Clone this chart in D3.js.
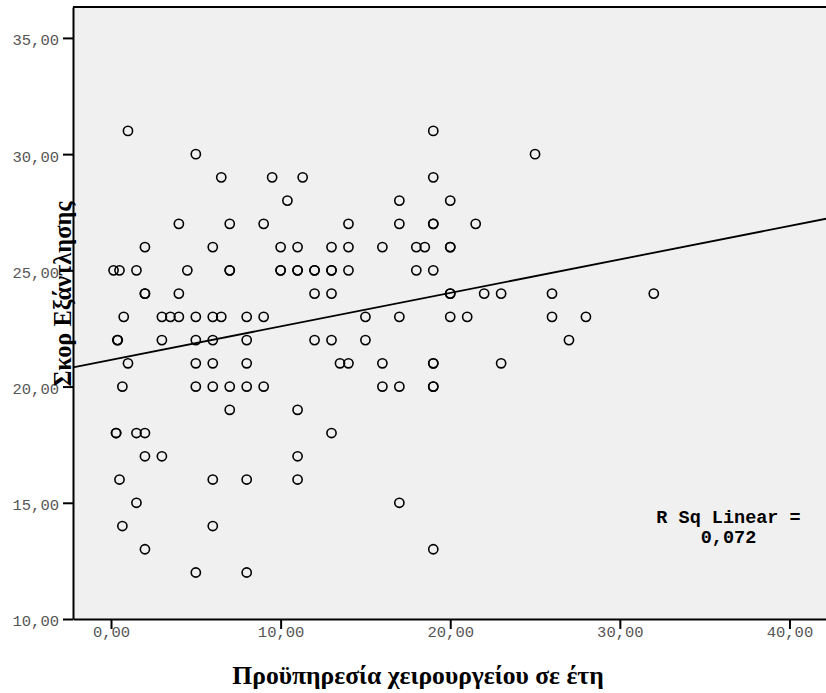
<!DOCTYPE html>
<html><head><meta charset="utf-8">
<script src="https://cdn.jsdelivr.net/npm/d3@7"></script>
<style>body{margin:0;background:#fff}</style>
</head><body><svg id="c" width="826" height="693"></svg>
<script>
// Years of operating-room experience (x) and burnout score (y), one entry per respondent
const experienceYears = [
  1, 19,
  5, 25,
  6.5, 9.5, 11.3, 19,
  10.4, 17, 20,
  4, 7, 9, 14, 17, 19, 19, 21.5,
  2, 6, 10, 11, 13, 14, 16, 18, 18.5, 20, 20,
  0.15, 0.5, 1.5, 4.5, 7, 7, 10, 10, 11, 11, 12, 12, 13, 13, 14, 18, 19,
  2, 2, 4, 12, 13, 20, 20, 22, 23, 26, 32,
  0.75, 3, 3.5, 4, 5, 6, 6.5, 8, 9, 15, 17, 20, 21, 26, 28,
  0.37, 0.4, 3, 5, 6, 8, 12, 13, 15, 27,
  1, 5, 6, 8, 13.5, 14, 16, 19, 19, 23,
  0.67, 5, 6, 7, 8, 9, 16, 17, 19, 19,
  7, 11,
  0.3, 0.3, 1.5, 2, 13,
  2, 3, 11,
  0.5, 6, 8, 11,
  1.5, 17,
  0.67, 6,
  2, 19,
  5, 8
];
const burnoutScore = [
  31, 31,
  30, 30,
  29, 29, 29, 29,
  28, 28, 28,
  27, 27, 27, 27, 27, 27, 27, 27,
  26, 26, 26, 26, 26, 26, 26, 26, 26, 26, 26,
  25, 25, 25, 25, 25, 25, 25, 25, 25, 25, 25, 25, 25, 25, 25, 25, 25,
  24, 24, 24, 24, 24, 24, 24, 24, 24, 24, 24,
  23, 23, 23, 23, 23, 23, 23, 23, 23, 23, 23, 23, 23, 23, 23,
  22, 22, 22, 22, 22, 22, 22, 22, 22, 22,
  21, 21, 21, 21, 21, 21, 21, 21, 21, 21,
  20, 20, 20, 20, 20, 20, 20, 20, 20, 20,
  19, 19,
  18, 18, 18, 18, 18,
  17, 17, 17,
  16, 16, 16, 16,
  15, 15,
  14, 14,
  13, 13,
  12, 12
];
const xTicks = [0, 10, 20, 30, 40];
const yTicks = [10, 15, 20, 25, 30, 35];
const xDomain = [-2.241, 42.39];
const yDomain = [10, 36.33];
const fitIntercept = 21.15;
const fitSlope = 0.144;
const rSquaredLines = ["R Sq Linear =", "0,072"];
const xTitle = "Προϋπηρεσία χειρουργείου σε έτη";
const yTitle = "Σκορ Εξάντλησης";

const svg = d3.select("#c");
const L = 73, T = 7, R = 830, B = 619;
const x = d3.scaleLinear().domain(xDomain).range([L, R]);
const y = d3.scaleLinear().domain(yDomain).range([B, T]);
const locale = d3.formatLocale({decimal: ",", thousands: ".", grouping: [3], currency: ["", ""]});
const fmt = locale.format(".2f");

svg.append("rect").attr("x", L).attr("y", T).attr("width", R - L).attr("height", B - T).attr("fill", "#f0f0f0");
svg.append("line").attr("x1", L).attr("x2", R).attr("y1", T).attr("y2", T).attr("stroke", "#000").attr("stroke-width", 2);

svg.append("clipPath").attr("id", "clip").append("rect").attr("x", L).attr("y", T).attr("width", R - L).attr("height", B - T);

// regression line
svg.append("line")
  .attr("clip-path", "url(#clip)")
  .attr("x1", x(xDomain[0])).attr("y1", y(fitIntercept + fitSlope * xDomain[0]))
  .attr("x2", x(xDomain[1])).attr("y2", y(fitIntercept + fitSlope * xDomain[1]))
  .attr("stroke", "#000").attr("stroke-width", 1.8);

// points
svg.append("g").selectAll("circle").data(experienceYears).join("circle")
  .attr("cx", d => x(d))
  .attr("cy", (d, i) => y(burnoutScore[i]))
  .attr("r", 4.6)
  .attr("fill", "none").attr("stroke", "#000").attr("stroke-width", 1.6);

const yAxis = svg.append("g").attr("transform", `translate(${L},0)`)
  .call(d3.axisLeft(y).tickValues(yTicks).tickSize(10).tickSizeOuter(0).tickPadding(4).tickFormat(fmt));
const xAxis = svg.append("g").attr("transform", `translate(0,${B})`)
  .call(d3.axisBottom(x).tickValues(xTicks).tickSize(10).tickSizeOuter(0).tickFormat(fmt));

[yAxis, xAxis].forEach(g => {
  g.select(".domain").attr("stroke", "#000").attr("stroke-width", 2);
  g.selectAll(".tick line").attr("stroke", "#000").attr("stroke-width", 2);
  g.selectAll(".tick text").attr("fill", "#555").style("font-family", "'Liberation Mono', 'Courier New', monospace").style("font-size", "15.5px");
});
yAxis.selectAll(".tick text").attr("dy", "0.45em");
xAxis.selectAll(".tick text").attr("y", 18).attr("dy", 0);

// titles
svg.append("text").attr("x", 418).attr("y", 684).attr("text-anchor", "middle")
  .style("font-family", "'Liberation Serif', 'Times New Roman', serif").style("font-weight", "bold").style("font-size", "25.6px")
  .text(xTitle);
svg.append("text").attr("transform", "translate(71,294) rotate(-90)").attr("text-anchor", "middle")
  .style("font-family", "'Liberation Serif', 'Times New Roman', serif").style("font-weight", "bold").style("font-size", "24.4px")
  .text(yTitle);

// R squared annotation
svg.append("g").selectAll("text").data(rSquaredLines).join("text")
  .attr("x", 728.5).attr("y", (d, i) => 523 + i * 19.5).attr("text-anchor", "middle")
  .style("font-family", "'Liberation Mono', 'Courier New', monospace").style("font-weight", "bold").style("font-size", "18.5px")
  .text(d => d);
</script>
</body></html>
